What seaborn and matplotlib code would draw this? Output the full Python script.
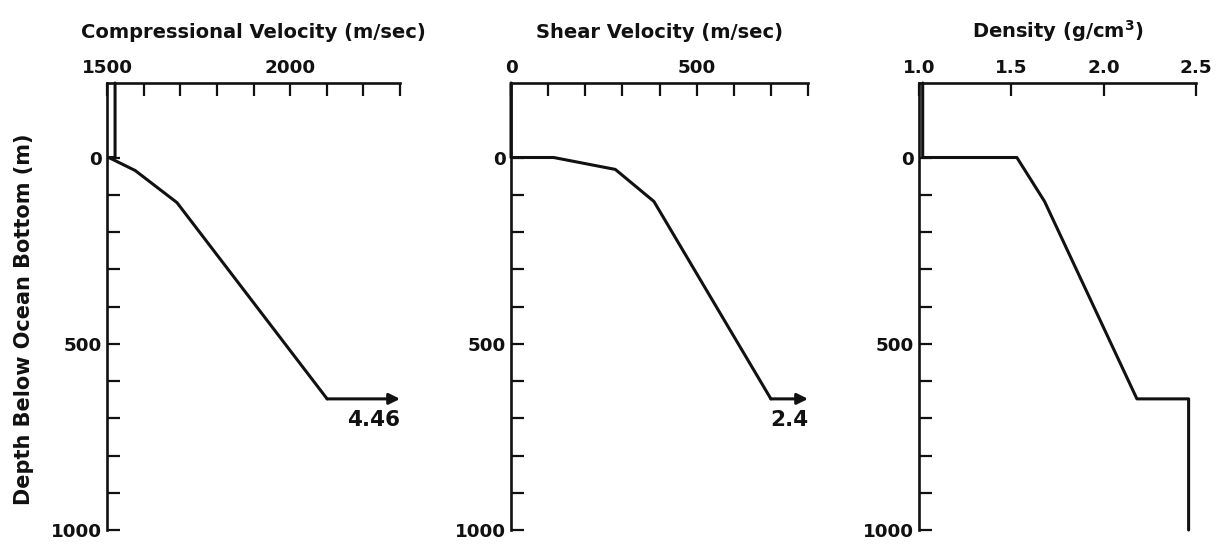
import matplotlib
matplotlib.use("Agg")
import matplotlib.pyplot as plt
import seaborn as sns
import pandas as pd
from matplotlib.ticker import FixedLocator, MultipleLocator

sns.set_theme(style="white")
plt.rcParams["font.family"] = ["DejaVu Sans"]

# ---------------- data ----------------
cp_velocity = [1522, 1522, 1505, 1577, 1691, 2101]
cp_depth = [-200, 0, 0, 35, 121, 648]
cp_halfspace_label = "4.46"

vs_velocity = [0, 0, 115, 281, 385, 700]
vs_depth = [-200, 0, 0, 32, 118, 648]
vs_halfspace_label = "2.4"

density = [1.02, 1.02, 1.53, 1.68, 2.18, 2.46, 2.46]
density_depth = [-200, 0, 0, 118, 648, 648, 1000]

titles = ["Compressional Velocity (m/sec)", "Shear Velocity (m/sec)",
          "Density (g/cm$^\\mathbf{3}$)"]
x_ranges = [(1500, 2300), (0, 800), (1.0, 2.5)]
x_major = [[1500, 2000], [0, 500], [1.0, 1.5, 2.0, 2.5]]
x_major_labels = [["1500", "2000"], ["0", "500"], ["1.0", "1.5", "2.0", "2.5"]]
x_minor_step = [100, 100, None]
depth_range = (-200, 1000)
depth_major = [0, 500, 1000]
depth_minor = [100, 200, 300, 400, 600, 700, 800, 900]
depth_label = "Depth Below Ocean Bottom (m)"

# ---------------- layout ----------------
fig = plt.figure(figsize=(12.2, 5.45), dpi=100)
W, H = 1220, 545
boxes = [(107, 400), (511, 808), (919, 1196)]
top_px, bot_px = 83, 530
ink = "#111111"

profiles = [
    (cp_velocity, cp_depth, cp_halfspace_label),
    (vs_velocity, vs_depth, vs_halfspace_label),
    (density, density_depth, None),
]

for i, ((xl, xr), (vals, dep, hs_label)) in enumerate(zip(boxes, profiles)):
    ax = fig.add_axes([xl / W, 1 - bot_px / H, (xr - xl) / W, (bot_px - top_px) / H])
    df = pd.DataFrame({"value": vals, "depth": dep})
    sns.lineplot(data=df, x="value", y="depth", sort=False, estimator=None,
                 color=ink, lw=2.2, ax=ax, clip_on=False)
    ax.set_xlim(*x_ranges[i])
    ax.set_ylim(depth_range[1], depth_range[0])

    # arrow to half-space
    if hs_label is not None:
        xmax = x_ranges[i][1]
        ax.annotate("", xy=(xmax, dep[-1]), xytext=(vals[-1], dep[-1]),
                    arrowprops=dict(arrowstyle="-|>", lw=2.2, color=ink,
                                    mutation_scale=16, shrinkA=0, shrinkB=0),
                    annotation_clip=False)
        ax.text(xmax, dep[-1] + 56, hs_label, ha="right", va="center",
                fontsize=15.5, fontweight="bold", color=ink)

    # spines
    for s in ["right", "bottom"]:
        ax.spines[s].set_visible(False)
    for s in ["left", "top"]:
        ax.spines[s].set_linewidth(1.9)
        ax.spines[s].set_color(ink)

    # x axis on top
    ax.xaxis.tick_top()
    ax.xaxis.set_label_position("top")
    ax.xaxis.set_major_locator(FixedLocator(x_major[i]))
    ax.set_xticklabels(x_major_labels[i], fontweight="bold")
    if x_minor_step[i]:
        ax.xaxis.set_minor_locator(MultipleLocator(x_minor_step[i]))
    ax.yaxis.set_major_locator(FixedLocator(depth_major))
    ax.set_yticklabels([str(d) for d in depth_major], fontweight="bold")
    ax.yaxis.set_minor_locator(FixedLocator(depth_minor))

    ax.tick_params(axis="both", which="both", direction="in", length=9.5,
                   width=1.6, color=ink, labelsize=13.2, labelcolor=ink,
                   pad=4)
    ax.tick_params(axis="x", which="both", top=True, bottom=False)
    ax.tick_params(axis="y", which="both", left=True, right=False)

    ax.set_xlabel(titles[i], fontsize=14, labelpad=15.5, color=ink,
                  fontweight="bold")
    if i == 0:
        ax.set_ylabel(depth_label, fontsize=15, color=ink, fontweight="bold")
        ax.yaxis.set_label_coords(-0.249, 0.472)
    else:
        ax.set_ylabel("")
    ax.set_facecolor("white")

fig.savefig("out.png", dpi=100, facecolor="white")
